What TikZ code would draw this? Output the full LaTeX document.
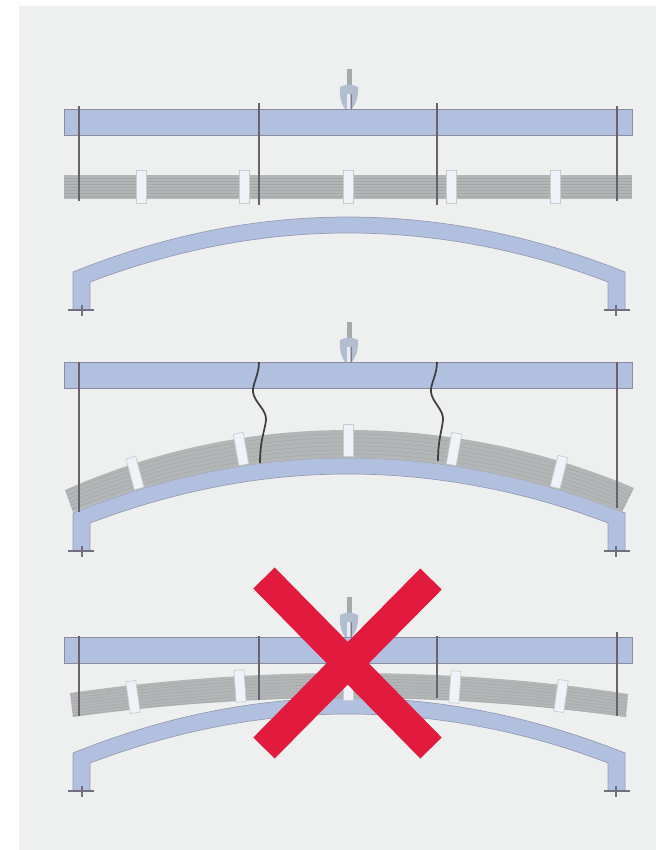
\documentclass[tikz,border=0pt]{standalone}
\usetikzlibrary{calc}
\definecolor{panelgrey}{RGB}{238,240,239}
\definecolor{beamblue}{RGB}{178,192,224}
\definecolor{beamedge}{RGB}{140,140,160}
\definecolor{stackgrey}{RGB}{178,182,182}
\definecolor{rodgrey}{RGB}{105,98,108}
\definecolor{crossred}{RGB}{226,26,62}
\definecolor{hookblue}{RGB}{178,190,208}
\definecolor{stemgrey}{RGB}{165,170,172}
\tikzset{
  beam/.style={fill=beamblue, draw=beamedge, line width=0.5pt},
  rod/.style={draw=rodgrey, line width=0.8pt},
  slack/.style={draw=black!75, line width=1pt},
  stack/.style={fill=stackgrey},
  layer/.style={draw=stackgrey!92!black, line width=0.25pt},
  clamp/.style={fill=white!80!beamblue, draw=stackgrey!70!white, line width=0.4pt},
  arch/.style={fill=beamblue, draw=beamedge!70!beamblue, line width=0.4pt},
  foot/.style={draw=beamedge!80!black, line width=0.6pt},
  hook/.style={fill=hookblue, draw=none},
  stem/.style={draw=stemgrey, line width=5*0.02cm}
}
% crane hook above a beam
\newcommand{\crane}[1]{
  \draw[stem] (349,#1-40) -- (349,#1-18);
  \fill[hook] (340,#1-22) .. controls (345,#1-25) and (353,#1-25) .. (358,#1-22)
    .. controls (359,#1-12) and (355,#1-4) .. (352,#1) -- (345,#1) .. controls (342,#1-4) and (339,#1-12) .. (340,#1-22);
  \draw[white!70!beamblue, line width=3*0.02cm] (348,#1-15) -- (348,#1);
  \draw[gray, line width=0.5pt] (351,#1-15) -- (351,#1);
}
% arch with its two feet, #1 is the height of its crown
\newcommand{\archbody}[1]{
  \draw[arch] (73,#1+55) .. controls (165,#1+18) and (255,#1) .. (348,#1)
    .. controls (440,#1) and (532,#1+18) .. (625,#1+55) -- (625,#1+93) -- (608,#1+93) -- (608,#1+65)
    .. controls (525,#1+33) and (436,#1+16) .. (348,#1+16)
    .. controls (260,#1+16) and (175,#1+33) .. (90,#1+65) -- (90,#1+93) -- (73,#1+93) -- cycle;
  \draw[foot] (68,#1+93) -- (94,#1+93) (82,#1+88) -- (82,#1+99);
  \draw[foot] (604,#1+93) -- (630,#1+93) (616,#1+88) -- (616,#1+99);
}
\newcommand{\topbeam}[1]{
  \draw[beam] (64,#1) rectangle (632,#1+26);
}
\begin{document}
\begin{tikzpicture}[x=0.02cm, y=-0.02cm]
  \useasboundingbox (0,0) rectangle (656,850);
  \fill[white] (0,0) rectangle (656,850);
  \fill[panelgrey] (19,6) rectangle (656,850);

  % straight position
  \crane{109}
  \topbeam{109}
  \archbody{217}
  \fill[stack] (64,175) rectangle (632,199);
  \foreach \y in {178,181,...,197}
    \draw[layer] (64,\y) -- (632,\y);
  \foreach \x in {141,244,348,451,555}
    \draw[clamp] (\x-5,170) rectangle (\x+5,203);
  \foreach \x/\ytop/\ybot in {79/106/201,259/103/205,437/103/205,617/106/201}
    \draw[rod] (\x,\ytop) -- (\x,\ybot);

  % bent over the arch
  \crane{362}
  \topbeam{362}
  \archbody{458}
  \begin{scope}
    \clip (65,490) .. controls (160,448) and (255,430) .. (348,430)
      .. controls (441,430) and (540,448) .. (634,488)
      -- (622,512) .. controls (530,476) and (440,458) .. (348,458)
      .. controls (256,458) and (165,476) .. (73,512) -- cycle;
    \fill[stack] (60,425) rectangle (640,515);
    \foreach \d in {4,8,...,24}
      \draw[layer] (60,490+\d) .. controls (160,448+\d) and (255,430+\d) .. (348,430+\d)
        .. controls (441,430+\d) and (540,448+\d) .. (636,490+\d);
  \end{scope}
  \foreach \x/\y/\a in {135/473/15,241/449/10,348/440/0,454/449/-10,559/472/-14}
    \draw[clamp, rotate around={\a:(\x,\y)}] (\x-5,\y-16) rectangle (\x+5,\y+16);
  \draw[rod] (79,362) -- (79,512);
  \draw[rod] (617,362) -- (617,508);
  \draw[slack] (259,362) .. controls (259,375) and (252,385) .. (253,392)
    .. controls (254,402) and (267,410) .. (266,420) .. controls (265,430) and (260,440) .. (260,463);
  \draw[slack] (437,362) .. controls (437,375) and (430,385) .. (431,392)
    .. controls (432,402) and (444,410) .. (443,420) .. controls (442,430) and (438,440) .. (438,461);

  % not allowed
  \crane{637}
  \topbeam{637}
  \archbody{698}
  \begin{scope}
    \clip (70,693) .. controls (160,680) and (255,673) .. (348,673)
      .. controls (441,673) and (540,680) .. (628,694)
      -- (626,717) .. controls (540,705) and (441,698) .. (348,698)
      .. controls (255,698) and (160,705) .. (73,717) -- cycle;
    \fill[stack] (65,670) rectangle (632,720);
    \foreach \d in {3,6,...,24}
      \draw[layer] (65,693+\d) .. controls (160,680+\d) and (255,673+\d) .. (348,673+\d)
        .. controls (441,673+\d) and (540,680+\d) .. (632,694+\d);
  \end{scope}
  \foreach \x/\y/\a in {133/697/8,240/686/4,348/684/0,455/687/-4,561/696/-8}
    \draw[clamp, rotate around={\a:(\x,\y)}] (\x-5,\y-16) rectangle (\x+5,\y+16);
  \foreach \x/\ytop/\ybot in {79/636/716,259/636/700,437/636/698,617/632/716}
    \draw[rod] (\x,\ytop) -- (\x,\ybot);
  \draw[crossred, line width=30*0.02cm] (264,578) -- (431,748);
  \draw[crossred, line width=30*0.02cm] (431,579) -- (264,748);
\end{tikzpicture}
\end{document}
